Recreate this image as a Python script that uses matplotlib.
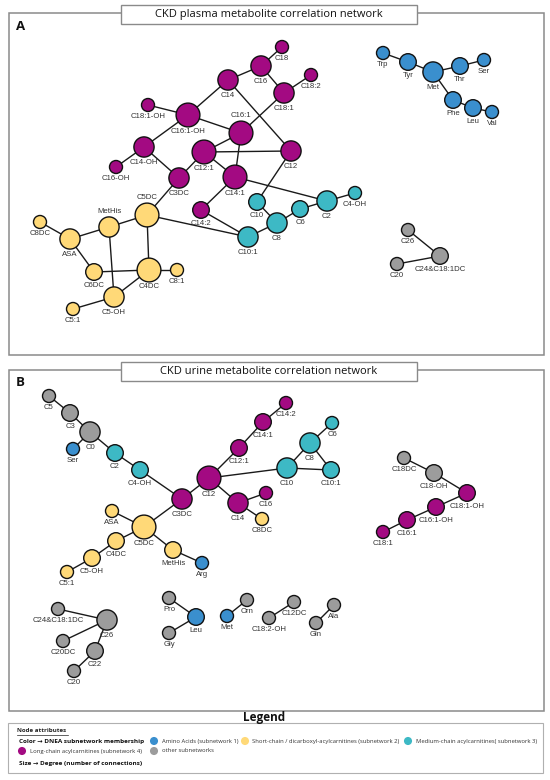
"""CKD metabolite correlation networks (plasma / urine), DNEA subnetworks."""
import matplotlib
matplotlib.use("Agg")
import matplotlib.pyplot as plt
import matplotlib.patches as mpatches

plt.rcParams["font.family"] = ["Liberation Sans", "DejaVu Sans"]

W, H = 550, 780

# subnetwork colours
COLORS = {
    "aa": "#3a8fce",     # amino acids (subnetwork 1)
    "sc": "#ffd978",     # short-chain / dicarboxyl (subnetwork 2)
    "mc": "#3db9c5",     # medium-chain (subnetwork 3)
    "lc": "#a30a82",     # long-chain (subnetwork 4)
    "ot": "#9c9c9c",     # other subnetworks
}

# ---- panel A: plasma -------------------------------------------------------
plasma_names = ["C18", "C16", "C18:2", "C18:1", "C14", "C18:1-OH", "C16:1-OH",
                "C16:1", "C14-OH", "C16-OH", "C12:1", "C12", "C3DC", "C14:1",
                "C14:2", "C10", "C8", "C6", "C2", "C4-OH", "C10:1",
                "C5DC", "MetHis", "C8DC", "ASA", "C6DC", "C4DC", "C8:1",
                "C5-OH", "C5:1",
                "Trp", "Tyr", "Met", "Thr", "Ser", "Phe", "Leu", "Val",
                "C26", "C24&C18:1DC", "C20"]
plasma_groups = (["lc"] * 15 + ["mc"] * 6 + ["sc"] * 9 + ["aa"] * 8 + ["ot"] * 3)
plasma_x = [282, 261, 311, 284, 228, 148, 188, 241, 144, 116, 204, 291, 179, 235,
            201, 257, 277, 300, 327, 355, 248,
            147, 109, 40, 70, 94, 149, 177, 114, 73,
            383, 408, 433, 460, 484, 453, 473, 492,
            408, 440, 397]
plasma_y = [47, 66, 75, 93, 80, 105, 115, 133, 147, 167, 152, 151, 178, 177,
            210, 202, 223, 209, 201, 193, 237,
            215, 227, 222, 239, 272, 270, 270, 297, 309,
            53, 62, 72, 66, 60, 100, 108, 112,
            230, 256, 264]
plasma_edges = [("C18", "C16"), ("C16", "C14"), ("C16", "C18:1"), ("C18:2", "C18:1"),
                ("C18:1", "C16:1"), ("C14", "C16:1-OH"), ("C14", "C12"),
                ("C18:1-OH", "C16:1-OH"), ("C16:1-OH", "C16:1"), ("C16:1-OH", "C14-OH"),
                ("C14-OH", "C16-OH"), ("C14-OH", "C3DC"), ("C16:1", "C12:1"),
                ("C16:1", "C14:1"), ("C12:1", "C12"), ("C12:1", "C14:1"),
                ("C12:1", "C3DC"), ("C14:1", "C2"), ("C14:1", "C14:2"), ("C12", "C10"),
                ("C3DC", "C5DC"), ("C14:2", "C10:1"), ("C5DC", "C10:1"), ("C10", "C8"),
                ("C8", "C10:1"), ("C8", "C6"), ("C6", "C2"), ("C2", "C4-OH"),
                ("C5DC", "MetHis"), ("C5DC", "C4DC"), ("MetHis", "ASA"),
                ("MetHis", "C5-OH"), ("C8DC", "ASA"), ("ASA", "C6DC"), ("C6DC", "C4DC"),
                ("C4DC", "C8:1"), ("C4DC", "C5-OH"), ("C5-OH", "C5:1"),
                ("Trp", "Tyr"), ("Tyr", "Met"), ("Met", "Thr"), ("Thr", "Ser"),
                ("Met", "Phe"), ("Phe", "Leu"), ("Leu", "Val"),
                ("C26", "C24&C18:1DC"), ("C20", "C24&C18:1DC")]
plasma_above = ["C16:1", "C5DC", "MetHis"]

# ---- panel B: urine --------------------------------------------------------
urine_names = ["C5", "C3", "C0", "Ser", "C2", "C4-OH", "C3DC", "C12", "C12:1",
               "C14:1", "C14:2", "C6", "C8", "C10", "C10:1", "C14", "C16", "C8DC",
               "ASA", "C5DC", "C4DC", "C5-OH", "C5:1", "MetHis", "Arg",
               "C18DC", "C18-OH", "C18:1-OH", "C16:1-OH", "C16:1", "C18:1",
               "C24&C18:1DC", "C26", "C20DC", "C22", "C20",
               "Pro", "Leu", "Gly", "Met", "Orn", "C18:2-OH", "C12DC", "Gln", "Ala"]
urine_groups = ["ot", "ot", "ot", "aa", "mc", "mc", "lc", "lc", "lc",
                "lc", "lc", "mc", "mc", "mc", "mc", "lc", "lc", "sc",
                "sc", "sc", "sc", "sc", "sc", "sc", "aa",
                "ot", "ot", "lc", "lc", "lc", "lc",
                "ot", "ot", "ot", "ot", "ot",
                "ot", "aa", "ot", "aa", "ot", "ot", "ot", "ot", "ot"]
urine_x = [49, 70, 90, 73, 115, 140, 182, 209, 239,
           263, 286, 332, 310, 287, 331, 238, 266, 262,
           112, 144, 116, 92, 67, 173, 202,
           404, 434, 467, 436, 407, 383,
           58, 107, 63, 95, 74,
           169, 196, 169, 227, 247, 269, 294, 316, 334]
urine_y = [396, 413, 432, 449, 453, 470, 499, 478, 448,
           422, 403, 423, 443, 468, 470, 503, 493, 519,
           511, 527, 541, 558, 572, 550, 563,
           458, 473, 493, 507, 520, 532,
           609, 620, 641, 651, 671,
           598, 617, 633, 616, 600, 618, 602, 623, 605]
urine_edges = [("C5", "C3"), ("C3", "C0"), ("C0", "Ser"), ("C0", "C2"), ("C2", "C4-OH"),
               ("C4-OH", "C3DC"), ("C3DC", "C12"), ("C3DC", "C5DC"), ("C12", "C12:1"),
               ("C12:1", "C14:1"), ("C14:1", "C14:2"), ("C12", "C10"), ("C12", "C14"),
               ("C14", "C16"), ("C14", "C8DC"), ("C10", "C8"), ("C10", "C10:1"),
               ("C8", "C6"), ("C8", "C10:1"), ("C5DC", "ASA"), ("C5DC", "C4DC"),
               ("C4DC", "C5-OH"), ("C5-OH", "C5:1"), ("C5DC", "MetHis"),
               ("MetHis", "Arg"),
               ("C18DC", "C18-OH"), ("C18-OH", "C18:1-OH"), ("C18:1-OH", "C16:1-OH"),
               ("C16:1-OH", "C16:1"), ("C16:1", "C18:1"),
               ("C24&C18:1DC", "C26"), ("C20DC", "C26"), ("C26", "C22"), ("C22", "C20"),
               ("Pro", "Leu"), ("Gly", "Leu"), ("Met", "Orn"), ("C18:2-OH", "C12DC"),
               ("Gln", "Ala")]
urine_above = []

legend_items = [("aa", "Amino Acids (subnetwork 1)"),
                ("sc", "Short-chain / dicarboxyl-acylcarnitines (subnetwork 2)"),
                ("mc", "Medium-chain acylcarnitines( subnetwork 3)"),
                ("lc", "Long-chain acylcarnitines (subnetwork 4)"),
                ("ot", "other subnetworks")]

fig = plt.figure(figsize=(W / 100, H / 100), dpi=100)
fig.patch.set_facecolor("white")
ax = fig.add_axes([0, 0, 1, 1])
ax.set_xlim(0, W)
ax.set_ylim(H, 0)
ax.axis("off")

FRAME = "#8a8a8a"


def radius(deg):
    # pixel radius by degree
    return 4.7 + 1.8 * deg


def draw_network(names, groups, xs, ys, edges, above):
    pos = {n: (x, y) for n, x, y in zip(names, xs, ys)}
    deg = {n: 0 for n in names}
    for a, b in edges:
        deg[a] += 1
        deg[b] += 1
        ax.plot([pos[a][0], pos[b][0]], [pos[a][1], pos[b][1]],
                color="#1a1a1a", lw=1.0, zorder=2, solid_capstyle="round")
    rs = [radius(deg[n]) for n in names]
    ax.scatter(xs, ys, s=[(2 * r * 0.72) ** 2 for r in rs],
               c=[COLORS[g] for g in groups], edgecolors="#111111",
               linewidths=1.0, zorder=3)
    for n, x, y, r in zip(names, xs, ys, rs):
        if n in above:
            ax.text(x, y - r - 2, n, ha="center", va="bottom",
                    fontsize=5.6, color="#333333", zorder=4)
        else:
            ax.text(x, y + r + 1.5, n, ha="center", va="top",
                    fontsize=5.6, color="#333333", zorder=4)


def panel(top, bottom, letter, title):
    ax.add_patch(mpatches.Rectangle((9, top), 535, bottom - top, fill=False,
                                    edgecolor=FRAME, lw=1.1, zorder=1))
    ax.add_patch(mpatches.Rectangle((121, top - 8), 296, 19, facecolor="white",
                                    edgecolor=FRAME, lw=1.0, zorder=5))
    ax.text(269, top + 1.5, title, ha="center", va="center", fontsize=8,
            family=["Open Sans", "DejaVu Sans"], color="#111111", zorder=6)
    ax.text(16, top + 13, letter, ha="left", va="center", fontsize=9.5,
            fontweight="bold", family=["Open Sans", "DejaVu Sans"],
            color="#111111", zorder=6)


panel(13, 355, "A", "CKD plasma metabolite correlation network")
panel(370, 711, "B", "CKD urine metabolite correlation network")
draw_network(plasma_names, plasma_groups, plasma_x, plasma_y, plasma_edges, plasma_above)
draw_network(urine_names, urine_groups, urine_x, urine_y, urine_edges, urine_above)

# ---- legend ----------------------------------------------------------------
LF = ["Open Sans", "DejaVu Sans"]
ax.text(264, 717, "Legend", ha="center", va="center", fontsize=8.5,
        fontweight="bold", family=LF, color="#111111")
ax.add_patch(mpatches.Rectangle((8, 723), 535, 50, fill=False,
                                edgecolor="#b0b0b0", lw=0.8))
ax.text(17, 731, "Node attributes", ha="left", va="center", fontsize=4.4,
        fontweight="bold", family=LF, color="#222222")
ax.plot([17, 68], [734.5, 734.5], color="#222222", lw=0.5)
ax.text(19, 741, "Color \u2192 DNEA subnetwork membership", ha="left",
        va="center", fontsize=4.6, fontweight="bold", family=LF, color="#111111")
ax.text(19, 763, "Size \u2192 Degree (number of connections)", ha="left",
        va="center", fontsize=4.6, fontweight="bold", family=LF, color="#111111")
leg_x = [154, 245, 408, 22, 154]
leg_y = [741, 741, 741, 751, 751]
for (g, lab), lx, ly in zip(legend_items, leg_x, leg_y):
    ax.scatter([lx], [ly], s=34, c=COLORS[g], edgecolors="none", zorder=3)
    ax.text(lx + 7.5, ly, lab, ha="left", va="center", fontsize=4.2,
            family=LF, color="#333333")

fig.savefig("out.png", dpi=100, facecolor="white")
